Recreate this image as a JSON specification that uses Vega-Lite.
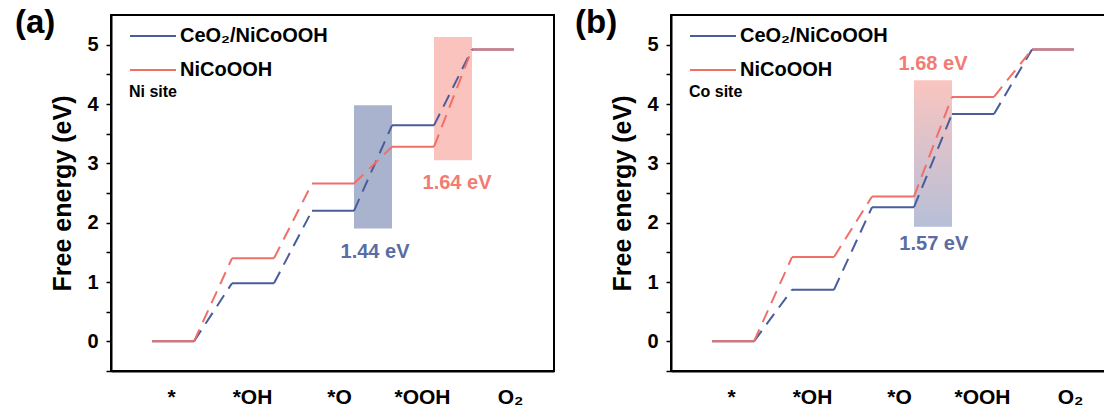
{
  "$schema": "https://vega.github.io/schema/vega-lite/v6.json",
  "background": "white",
  "padding": {"left": 13, "top": 5, "right": 0, "bottom": 0},
  "config": {
    "font": "Liberation Sans",
    "view": {"stroke": "black", "strokeWidth": 2},
    "axis": {"labelFont": "Liberation Sans", "titleFont": "Liberation Sans", "labelFontWeight": "bold", "titleFontWeight": "bold", "labelColor": "black", "titleColor": "black", "grid": false, "domain": true, "domainColor": "black", "domainWidth": 2, "tickColor": "black"},
    "concat": {"spacing": 18},
    "legend": {"labelFont": "Liberation Sans", "titleFont": "Liberation Sans"}
  },
  "datasets": {
    "levels": [
      {"panel": "a", "series": "CeO₂/NiCoOOH", "step": 0, "energy": 0},
      {"panel": "a", "series": "CeO₂/NiCoOOH", "step": 1, "energy": 0.98},
      {"panel": "a", "series": "CeO₂/NiCoOOH", "step": 2, "energy": 2.20},
      {"panel": "a", "series": "CeO₂/NiCoOOH", "step": 3, "energy": 3.64},
      {"panel": "a", "series": "CeO₂/NiCoOOH", "step": 4, "energy": 4.92},
      {"panel": "a", "series": "NiCoOOH", "step": 0, "energy": 0},
      {"panel": "a", "series": "NiCoOOH", "step": 1, "energy": 1.40},
      {"panel": "a", "series": "NiCoOOH", "step": 2, "energy": 2.66},
      {"panel": "a", "series": "NiCoOOH", "step": 3, "energy": 3.28},
      {"panel": "a", "series": "NiCoOOH", "step": 4, "energy": 4.92},
      {"panel": "b", "series": "CeO₂/NiCoOOH", "step": 0, "energy": 0},
      {"panel": "b", "series": "CeO₂/NiCoOOH", "step": 1, "energy": 0.87},
      {"panel": "b", "series": "CeO₂/NiCoOOH", "step": 2, "energy": 2.26},
      {"panel": "b", "series": "CeO₂/NiCoOOH", "step": 3, "energy": 3.83},
      {"panel": "b", "series": "CeO₂/NiCoOOH", "step": 4, "energy": 4.92},
      {"panel": "b", "series": "NiCoOOH", "step": 0, "energy": 0},
      {"panel": "b", "series": "NiCoOOH", "step": 1, "energy": 1.42},
      {"panel": "b", "series": "NiCoOOH", "step": 2, "energy": 2.44},
      {"panel": "b", "series": "NiCoOOH", "step": 3, "energy": 4.12},
      {"panel": "b", "series": "NiCoOOH", "step": 4, "energy": 4.92}
    ],
    "boxes": [
      {"panel": "a", "series": "CeO₂/NiCoOOH", "step": 2, "stepTo": 3, "energy": 1.9, "energyTo": 3.98},
      {"panel": "a", "series": "NiCoOOH", "step": 3, "stepTo": 4, "energy": 3.05, "energyTo": 5.13},
      {"panel": "b", "series": "both", "step": 2, "stepTo": 3, "energy": 1.93, "energyTo": 4.40}
    ],
    "notes": [
      {"panel": "a", "series": "CeO₂/NiCoOOH", "label": "1.44 eV", "step": 2.525, "energy": 1.51},
      {"panel": "a", "series": "NiCoOOH", "label": "1.64 eV", "step": 3.55, "energy": 2.67},
      {"panel": "b", "series": "NiCoOOH", "label": "1.68 eV", "step": 2.5, "energy": 4.68},
      {"panel": "b", "series": "CeO₂/NiCoOOH", "label": "1.57 eV", "step": 2.51, "energy": 1.64}
    ],
    "tags": [
      {"panel": "a", "tag": "(a)", "step": -1.975, "energy": 5.635},
      {"panel": "b", "tag": "(b)", "step": -1.975, "energy": 5.635}
    ],
    "frames": [
      {"panel": "a", "step": -0.775, "stepTo": 4.7625, "energy": -0.5, "energyTo": 5.5},
      {"panel": "b", "step": -0.775, "stepTo": 4.6875, "energy": -0.5, "energyTo": 5.5}
    ]
  },
  "resolve": {"legend": {"color": "independent"}},
  "hconcat": [
    {
      "width": 443,
      "height": 356,
      "view": {"stroke": "black", "strokeWidth": 2},
      "encoding": {
        "x": {"field": "step", "type": "quantitative", "scale": {"domain": [-0.775, 4.7625], "nice": false, "zero": false},
          "axis": {"values": [-0.025, 0.9875, 2.075, 3.1125, 4.2125], "labelExpr": "datum.value < 0.5 ? '*' : datum.value < 1.5 ? '*OH' : datum.value < 2.5 ? '*O' : datum.value < 3.5 ? '*OOH' : 'O₂'", "ticks": false, "tickSize": 0, "labelPadding": 15, "labelFontSize": 21, "title": null, "labelFlush": false, "labelOverlap": false}},
        "y": {"field": "energy", "type": "quantitative", "scale": {"domain": [-0.5, 5.5], "nice": false, "zero": false},
          "axis": {"values": [-0.5, 0, 0.5, 1, 1.5, 2, 2.5, 3, 3.5, 4, 4.5, 5], "labelExpr": "datum.value % 1 == 0 ? format(datum.value, 'd') : ''", "tickSize": 5, "tickWidth": 1.5, "labelFontSize": 20, "labelPadding": 8, "title": "Free energy (eV)", "titleFontSize": 25, "titlePadding": 11, "labelOverlap": false}}
      },
      "layer": [
        {
          "data": {"name": "boxes"},
          "transform": [{"filter": "datum.panel == 'a'"}],
          "mark": {"type": "rect", "xOffset": 21, "x2Offset": -21},
          "encoding": {
            "x2": {"field": "stepTo"},
            "y2": {"field": "energyTo"},
            "color": {"condition": {"test": "datum.series == 'NiCoOOH'", "value": "#fac3be"}, "value": "#aab3cd"}
          }
        },
        {
          "data": {"name": "levels"},
          "transform": [{"filter": "datum.panel == 'a'"}],
          "mark": {"type": "rule", "xOffset": -21, "x2Offset": 21, "strokeWidth": 2},
          "encoding": {
            "x2": {"field": "step"},
            "color": {"field": "series", "type": "nominal", "scale": {"domain": ["CeO₂/NiCoOOH", "NiCoOOH"], "range": ["#4a5d9b", "#f06f69"]},
              "legend": {"orient": "none", "legendX": 18, "legendY": -3, "title": "Ni site", "titleOrient": "bottom", "titleAnchor": "start", "titleFontSize": 16, "titleFontWeight": "bold", "titleColor": "black", "titlePadding": 4, "labelFontSize": 20, "labelFontWeight": "bold", "labelColor": "black", "labelOffset": 3, "symbolType": "stroke", "symbolSize": 2116, "symbolStrokeWidth": 2, "rowPadding": -23, "padding": 0}}
          }
        },
        {
          "data": {"name": "levels"},
          "transform": [
            {"filter": "datum.panel == 'a'"},
            {"window": [{"op": "lead", "field": "energy", "as": "next"}, {"op": "lead", "field": "step", "as": "nextStep"}], "groupby": ["series"], "sort": [{"field": "step"}]},
            {"filter": "datum.next != null"}
          ],
          "mark": {"type": "rule", "xOffset": 21, "x2Offset": -21, "strokeWidth": 2, "strokeDash": [13, 8]},
          "encoding": {
            "x2": {"field": "nextStep"},
            "y2": {"field": "next"},
            "color": {"field": "series", "type": "nominal", "legend": null}
          }
        },
        {
          "data": {"name": "notes"},
          "transform": [{"filter": "datum.panel == 'a'"}],
          "mark": {"type": "text", "fontSize": 20, "fontWeight": "bold", "font": "Liberation Sans", "align": "center", "baseline": "middle"},
          "encoding": {
            "text": {"field": "label"},
            "color": {"condition": {"test": "datum.series == 'NiCoOOH'", "value": "#f27b73"}, "value": "#5a6ca4"}
          }
        },
        {
          "data": {"name": "tags"},
          "transform": [{"filter": "datum.panel == 'a'"}],
          "mark": {"type": "text", "fontSize": 33, "fontWeight": "bold", "font": "Liberation Sans", "align": "left", "baseline": "top", "color": "black"},
          "encoding": {
            "text": {"field": "tag"}
          }
        },
        {
          "data": {"name": "frames"},
          "transform": [{"filter": "datum.panel == 'a'"}],
          "mark": {"type": "rect", "fill": "transparent", "stroke": "black", "strokeWidth": 2},
          "encoding": {
            "x2": {"field": "stepTo"},
            "y2": {"field": "energyTo"}
          }
        }
      ]
    },
    {
      "width": 437,
      "height": 356,
      "view": {"stroke": "black", "strokeWidth": 2},
      "encoding": {
        "x": {"field": "step", "type": "quantitative", "scale": {"domain": [-0.775, 4.6875], "nice": false, "zero": false},
          "axis": {"values": [-0.025, 0.9875, 2.075, 3.1125, 4.2125], "labelExpr": "datum.value < 0.5 ? '*' : datum.value < 1.5 ? '*OH' : datum.value < 2.5 ? '*O' : datum.value < 3.5 ? '*OOH' : 'O₂'", "ticks": false, "tickSize": 0, "labelPadding": 15, "labelFontSize": 21, "title": null, "labelFlush": false, "labelOverlap": false}},
        "y": {"field": "energy", "type": "quantitative", "scale": {"domain": [-0.5, 5.5], "nice": false, "zero": false},
          "axis": {"values": [-0.5, 0, 0.5, 1, 1.5, 2, 2.5, 3, 3.5, 4, 4.5, 5], "labelExpr": "datum.value % 1 == 0 ? format(datum.value, 'd') : ''", "tickSize": 5, "tickWidth": 1.5, "labelFontSize": 20, "labelPadding": 8, "title": "Free energy (eV)", "titleFontSize": 25, "titlePadding": 11, "labelOverlap": false}}
      },
      "layer": [
        {
          "data": {"name": "boxes"},
          "transform": [{"filter": "datum.panel == 'b'"}],
          "mark": {"type": "rect", "xOffset": 21, "x2Offset": -21, "fill": {"gradient": "linear", "x1": 0, "y1": 0, "x2": 0, "y2": 1, "stops": [{"offset": 0, "color": "#fac5c0"}, {"offset": 1, "color": "#b6bfd8"}]}},
          "encoding": {
            "x2": {"field": "stepTo"},
            "y2": {"field": "energyTo"}
          }
        },
        {
          "data": {"name": "levels"},
          "transform": [{"filter": "datum.panel == 'b'"}],
          "mark": {"type": "rule", "xOffset": -21, "x2Offset": 21, "strokeWidth": 2},
          "encoding": {
            "x2": {"field": "step"},
            "color": {"field": "series", "type": "nominal", "scale": {"domain": ["CeO₂/NiCoOOH", "NiCoOOH"], "range": ["#4a5d9b", "#f06f69"]},
              "legend": {"orient": "none", "legendX": 18, "legendY": -3, "title": "Co site", "titleOrient": "bottom", "titleAnchor": "start", "titleFontSize": 16, "titleFontWeight": "bold", "titleColor": "black", "titlePadding": 4, "labelFontSize": 20, "labelFontWeight": "bold", "labelColor": "black", "labelOffset": 3, "symbolType": "stroke", "symbolSize": 2116, "symbolStrokeWidth": 2, "rowPadding": -23, "padding": 0}}
          }
        },
        {
          "data": {"name": "levels"},
          "transform": [
            {"filter": "datum.panel == 'b'"},
            {"window": [{"op": "lead", "field": "energy", "as": "next"}, {"op": "lead", "field": "step", "as": "nextStep"}], "groupby": ["series"], "sort": [{"field": "step"}]},
            {"filter": "datum.next != null"}
          ],
          "mark": {"type": "rule", "xOffset": 21, "x2Offset": -21, "strokeWidth": 2, "strokeDash": [13, 8]},
          "encoding": {
            "x2": {"field": "nextStep"},
            "y2": {"field": "next"},
            "color": {"field": "series", "type": "nominal", "legend": null}
          }
        },
        {
          "data": {"name": "notes"},
          "transform": [{"filter": "datum.panel == 'b'"}],
          "mark": {"type": "text", "fontSize": 20, "fontWeight": "bold", "font": "Liberation Sans", "align": "center", "baseline": "middle"},
          "encoding": {
            "text": {"field": "label"},
            "color": {"condition": {"test": "datum.series == 'NiCoOOH'", "value": "#f27b73"}, "value": "#5a6ca4"}
          }
        },
        {
          "data": {"name": "tags"},
          "transform": [{"filter": "datum.panel == 'b'"}],
          "mark": {"type": "text", "fontSize": 33, "fontWeight": "bold", "font": "Liberation Sans", "align": "left", "baseline": "top", "color": "black"},
          "encoding": {
            "text": {"field": "tag"}
          }
        },
        {
          "data": {"name": "frames"},
          "transform": [{"filter": "datum.panel == 'b'"}],
          "mark": {"type": "rect", "fill": "transparent", "stroke": "black", "strokeWidth": 2},
          "encoding": {
            "x2": {"field": "stepTo"},
            "y2": {"field": "energyTo"}
          }
        }
      ]
    }
  ]
}
